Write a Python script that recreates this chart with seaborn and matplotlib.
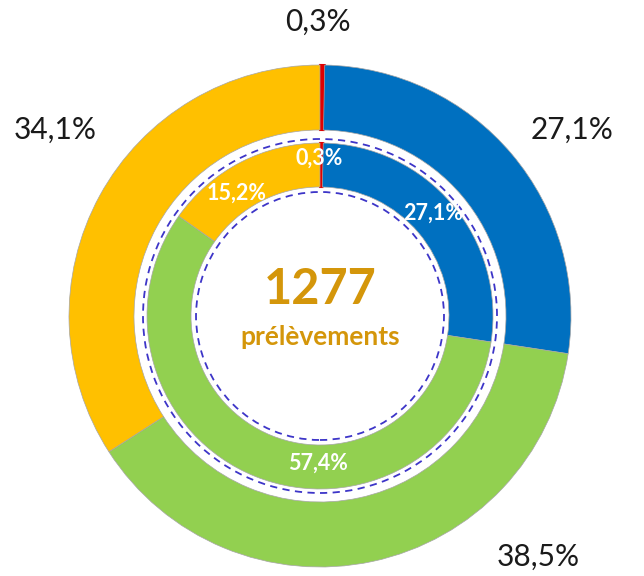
import matplotlib
matplotlib.use("Agg")
import matplotlib.pyplot as plt
import seaborn as sns
from matplotlib.patches import Circle

sns.set_theme(style="white")
plt.rcParams['font.family'] = ['Lato', 'DejaVu Sans']

categories = ["Rouge", "Bleu", "Vert", "Jaune"]
outer_values = [0.3, 27.1, 38.5, 34.1]
inner_values = [0.3, 27.1, 57.4, 15.2]
outer_labels = ["0,3%", "27,1%", "38,5%", "34,1%"]
inner_labels = ["0,3%", "27,1%", "57,4%", "15,2%"]
total_count = "1277"
total_caption = "prélèvements"

colors = ["#E00000", "#0070C0", "#92D050", "#FFC000"]

W, H = 644, 576
fig = plt.figure(figsize=(W / 100, H / 100), dpi=100)
ax = fig.add_axes([0, 0, 1, 1])

cx, cy = 320, H - 316

# outer ring
w_out, _ = ax.pie(outer_values, colors=colors, startangle=90, counterclock=False,
                  radius=251, center=(cx, cy),
                  wedgeprops=dict(width=65, edgecolor="#A6A6A6", linewidth=0.5))
# inner ring
w_in, _ = ax.pie(inner_values, colors=colors, startangle=90, counterclock=False,
                 radius=173, center=(cx, cy),
                 wedgeprops=dict(width=44, edgecolor="#A6A6A6", linewidth=0.5))
for wl in (w_out, w_in):
    wl[0].set_edgecolor(colors[0])
    wl[0].set_linewidth(1.5)
ax.set_xlim(0, W)
ax.set_ylim(0, H)
ax.set_aspect("equal")
ax.axis("off")

# dashed circles
for r in (177, 124):
    ax.add_patch(Circle((cx, cy), r, fill=False, edgecolor="#3D35C8",
                        linestyle=(0, (4, 3)), linewidth=1.3))

# outer labels (pixel positions)
outer_pos = [(318, 22), (572, 130), (538, 557), (55, 130)]
for lab, (x, y) in zip(outer_labels, outer_pos):
    ax.text(x, H - y, lab, ha="center", va="center", fontsize=21.5,
            color="#1A1A1A")

inner_pos = [(319, 158), (433, 213), (318, 463), (237, 193)]
for lab, (x, y) in zip(inner_labels, inner_pos):
    ax.text(x, H - y, lab, ha="center", va="center", fontsize=15.5,
            color="white", fontweight="bold")

ax.text(cx, H - 290, total_count, ha="center", va="center", fontsize=35,
        color="#D4960A", fontweight="bold")
ax.text(cx, H - 337, total_caption, ha="center", va="center", fontsize=19,
        color="#D4960A", fontweight="bold")

fig.savefig("out.png", dpi=100)
